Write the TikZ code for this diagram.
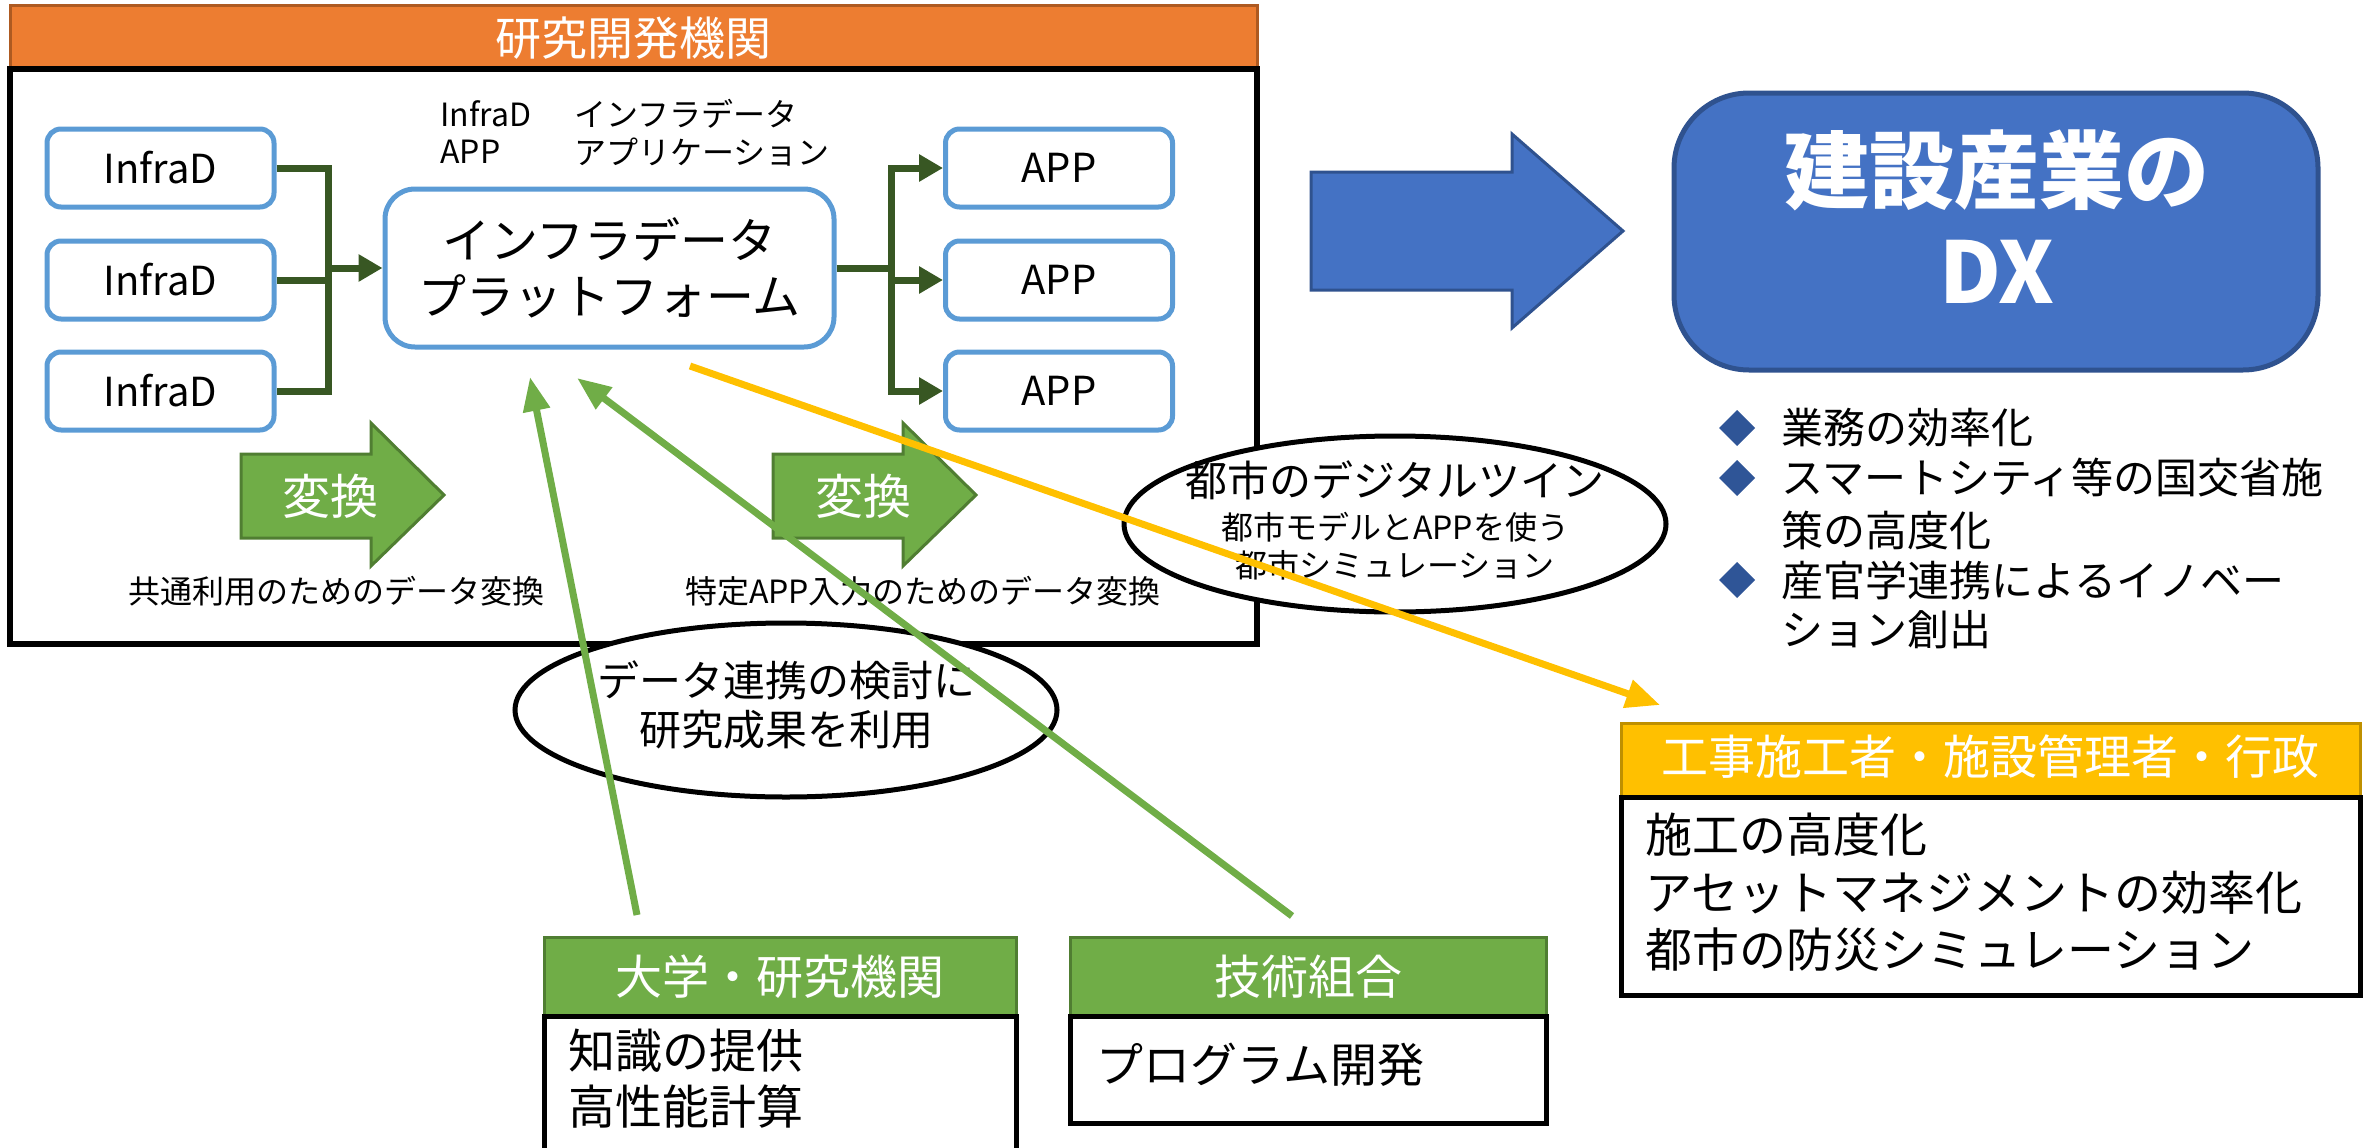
\documentclass[tikz,border=0pt]{standalone}
\usepackage{fontspec}
\setmainfont{Noto Sans CJK JP}
\usetikzlibrary{arrows.meta,shapes.geometric}
\definecolor{orangeF}{HTML}{ED7D31}
\definecolor{orangeD}{HTML}{AE5A21}
\definecolor{boxblue}{HTML}{5B9BD5}
\definecolor{darkgrn}{HTML}{385723}
\definecolor{grn}{HTML}{70AD47}
\definecolor{grnD}{HTML}{507E32}
\definecolor{dxblue}{HTML}{4472C4}
\definecolor{dxblueD}{HTML}{2F528F}
\definecolor{ylw}{HTML}{FFC000}
\definecolor{ylwD}{HTML}{BF9000}
\definecolor{bulletblue}{HTML}{2F5597}
\newcommand\fsz[2]{\fontsize{#1}{#2}\selectfont}
\tikzset{
  bluebox/.style={draw=boxblue, line width=5pt, rounded corners=14pt, fill=white,
    minimum width=227pt, minimum height=78pt, font=\fsz{40}{48}},
  conn/.style={draw=darkgrn, line width=7pt},
  conntip/.style={-{Triangle[length=24pt,width=26pt]}},
  henkan/.style={draw=grnD, fill=grn, line width=3pt},
  wtext/.style={text=white},
  ell/.style={ellipse, draw=black, line width=5pt, fill=white},
  hdrgrn/.style={draw=grnD, fill=grn, line width=3pt},
  hdrylw/.style={draw=ylwD, fill=ylw, line width=3pt},
  bodybox/.style={draw=black, line width=5pt, fill=white},
  garrow/.style={draw=grn, line width=7pt, -{Triangle[length=34pt,width=26pt]}},
  yarrow/.style={draw=ylw, line width=7pt, -{Triangle[length=34pt,width=28pt]}},
  bultext/.style={anchor=west, font=\fsz{42}{50}},
  bodytext/.style={anchor=west, font=\fsz{47}{56}},
}
\newcommand\bulletmark[1]{%
  \fill[bulletblue] (#1) +(-18,0) -- +(0,-18) -- +(18,0) -- +(0,18) -- cycle;}
\begin{document}
\begin{tikzpicture}[x=1pt,y=-1pt]
\useasboundingbox (0,0) rectangle (2371,1148);
% ---- research institute frame
\draw[fill=orangeF, draw=orangeD, line width=3pt] (10,6) rectangle (1257,69);
\node[wtext, font=\fsz{46}{54}] (hdr) at (633,38) {研究開発機関};
\draw[line width=6pt] (10,69) rectangle (1257,644);
% legend
\node[anchor=west, font=\fsz{32}{38}] (lg1) at (437,114) {InfraD};
\node[anchor=west, font=\fsz{32}{38}] (lg2) at (437,152) {APP};
\node[anchor=west, font=\fsz{32}{38}] (lg3) at (571,114) {インフラデータ};
\node[anchor=west, font=\fsz{32}{38}] (lg4) at (571,152) {アプリケーション};
% boxes
\node[bluebox] (inf1) at (160.5,168) {InfraD};
\node[bluebox] (inf2) at (160.5,280) {InfraD};
\node[bluebox] (inf3) at (160.5,391) {InfraD};
\node[bluebox] (app1) at (1059,168) {APP};
\node[bluebox] (app2) at (1059,280) {APP};
\node[bluebox] (app3) at (1059,391) {APP};
\node[draw=boxblue, line width=5pt, rounded corners=30pt, fill=white,
  minimum width=449pt, minimum height=158pt, align=center, font=\fsz{48}{56}]
  (plat) at (609.5,268) {インフラデータ\\プラットフォーム};
% connectors
\coordinate (busL) at (328,268);
\coordinate (busR) at (891,268);
\draw[conn] (inf1.east) -| (busL) |- (inf3.east);
\draw[conn] (inf2.east) -- (inf2.east -| busL);
\draw[conn, conntip] (busL) -- (plat.west);
\draw[conn] (plat.east) -- (busR);
\draw[conn, line cap=rect] (busR |- app1.west) -- (busR |- app3.west);
\draw[conn, conntip] (busR |- app1.west) -- (app1.west);
\draw[conn, conntip] (busR |- app2.west) -- (app2.west);
\draw[conn, conntip] (busR |- app3.west) -- (app3.west);
% conversion arrows
\path[henkan] (241,454) -- (371,454) -- (371,423) -- (444,495) -- (371,566) -- (371,538) -- (241,538) -- cycle;
\node[wtext, font=\fsz{48}{56}] (hk1) at (330,496) {変換};
\path[henkan] (773,454) -- (903,454) -- (903,423) -- (976,495) -- (903,566) -- (903,538) -- (773,538) -- cycle;
\node[wtext, font=\fsz{48}{56}] (hk2) at (863,496) {変換};
\node[font=\fsz{32}{38}] (cap1) at (336,591) {共通利用のためのデータ変換};
\node[font=\fsz{32}{38}] (cap2) at (923,591) {特定APP入力のためのデータ変換};
% ellipses
\node[ell, minimum width=542pt, minimum height=176pt] (twin) at (1395,524) {};
\node[font=\fsz{42}{50}] (twin1) at (1395,480) {都市のデジタルツイン};
\node[font=\fsz{32}{38}] (twin2) at (1395,527) {都市モデルとAPPを使う};
\node[font=\fsz{32}{38}] (twin3) at (1395,565) {都市シミュレーション};
\node[ell, minimum width=542pt, minimum height=174pt] (coop) at (786,710) {};
\node[font=\fsz{42}{50}] (coop1) at (786,680) {データ連携の検討に};
\node[font=\fsz{42}{50}] (coop2) at (786,730) {研究成果を利用};
% big blue arrow and DX box
\path[fill=dxblue, draw=dxblueD, line width=3pt] (1311,172) -- (1512,172) -- (1512,134) -- (1623,231) -- (1512,328) -- (1512,290) -- (1311,290) -- cycle;
\draw[fill=dxblue, draw=dxblueD, line width=5pt, rounded corners=75pt] (1674,93) rectangle (2318,370);
\node[wtext, font=\bfseries\fsz{85}{100}] (dx1) at (1997,170) {建設産業の};
\node[wtext, font=\bfseries\fsz{85}{100}] (dx2) at (1997,272) {DX};
% bullets
\coordinate (b1) at (1737,428);
\coordinate (b2) at (1737,478);
\coordinate (b3) at (1737,580);
\bulletmark{b1}
\bulletmark{b2}
\bulletmark{b3}
\node[bultext] (t1) at (1778,428) {業務の効率化};
\node[bultext] (t2) at (1778,478) {スマートシティ等の国交省施};
\node[bultext] (t2b) at (1778,530) {策の高度化};
\node[bultext] (t3) at (1778,580) {産官学連携によるイノベー};
\node[bultext] (t3b) at (1778,630) {ション創出};
% stakeholders box
\draw[hdrylw] (1621,723) rectangle (2360,797);
\node[wtext, font=\fsz{47}{56}] (sh) at (1990,757) {工事施工者・施設管理者・行政};
\draw[bodybox] (1621,797) rectangle (2360,995);
\node[bodytext] (sh1) at (1642,835) {施工の高度化};
\node[bodytext] (sh2) at (1642,893) {アセットマネジメントの効率化};
\node[bodytext] (sh3) at (1642,950) {都市の防災シミュレーション};
% university box
\draw[hdrgrn] (544,937) rectangle (1016,1016);
\node[wtext, font=\fsz{47}{56}] (uni) at (780,977) {大学・研究機関};
\draw[bodybox] (544,1016) rectangle (1016,1170);
\node[bodytext] (uni1) at (565,1051) {知識の提供};
\node[bodytext] (uni2) at (565,1107) {高性能計算};
% union box
\draw[hdrgrn] (1070,937) rectangle (1546,1016);
\node[wtext, font=\fsz{47}{56}] (tec) at (1308,977) {技術組合};
\draw[bodybox] (1070,1016) rectangle (1546,1123);
\node[bodytext] (tec1) at (1093,1065) {プログラム開発};
% long arrows
\coordinate (g1s) at (637,915);
\coordinate (g1e) at (530,377);
\coordinate (g2s) at (1292,916);
\coordinate (g2e) at (577,378);
\coordinate (ys) at (690,366);
\coordinate (ye) at (1660,705);
\draw[garrow] (g1s) -- (g1e);
\draw[garrow] (g2s) -- (g2e);
\draw[yarrow] (ys) -- (ye);
\end{tikzpicture}
\end{document}
